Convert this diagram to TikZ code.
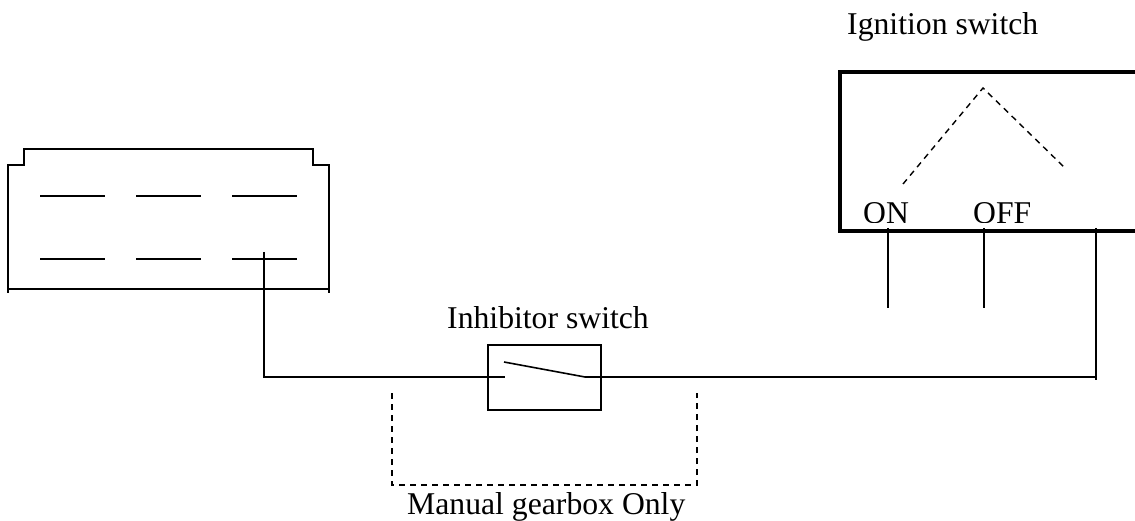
\documentclass[tikz,border=0pt]{standalone}
\usepackage{fontspec}
\setmainfont{Liberation Serif}
\usetikzlibrary{positioning}

\begin{document}
\begin{tikzpicture}[x=1pt, y=-1pt,
    wire/.style={draw=black, line width=1.6pt},
    housing/.style={draw=black, line width=2pt},
    ignbox/.style={draw=black, line width=3.6pt},
    guide/.style={draw=black, line width=1.4pt, dash pattern=on 6pt off 5pt},
    swbox/.style={draw=black, line width=1.6pt, minimum width=113pt, minimum height=65pt, inner sep=0pt},
    lbl/.style={font=\fontsize{31.7}{36}\selectfont, inner sep=0pt, anchor=base west}
]
\clip (0,0) rectangle (1135,521);

% Connector block
\draw[housing] (8,293) -- (8,165) -- (24,165) -- (24,149) -- (313,149) -- (313,165) -- (329,165) -- (329,293);
\draw[housing] (8,289) -- (329,289);
\foreach \x in {40,136,232}
  \foreach \y in {196,259}
    \draw[housing] (\x,\y) -- ++(65,0);
\coordinate (pinC) at (264,252);

% Ignition switch
\draw[ignbox] (1140,72) -- (840,72) -- (840,231) -- (1140,231);
\draw[guide] (903,184) -- (983,88) -- (1065,168);
\begin{scope}
  \clip (840,180) rectangle (1135,223);
  \node[lbl] (on) at (863,224) {ON};
  \node[lbl] (off) at (973,224) {OFF};
\end{scope}
\coordinate (ignT1) at (888,228);
\coordinate (ignT2) at (984,228);
\coordinate (ignT3) at (1096,228);
\draw[wire] (ignT1) -- ++(0,80);
\draw[wire] (ignT2) -- ++(0,80);
\node[lbl] (ignlbl) at (847,35) {Ignition switch};

% Inhibitor switch
\node[swbox] (inh) at (544.5,377.5) {};
\node[lbl] (inhlbl) at (447,328) {Inhibitor switch};
\coordinate (bladeA) at (505,377);
\coordinate (bladeB) at (585,377);
\coordinate (bendL) at (264,377);
\coordinate (bendR) at (1096,377);
\draw[wire] (pinC) -- (bendL) -- (bladeA);
\draw[wire] (504,362) -- (bladeB) -- (bendR);
\draw[wire] (ignT3) -- (1096,380);

% Manual gearbox bracket
\draw[guide] (392,393) -- (392,485) -- (697,485) -- (697,393);
\node[lbl] (manlbl) at (407,514) {Manual gearbox Only};
\end{tikzpicture}
\end{document}
